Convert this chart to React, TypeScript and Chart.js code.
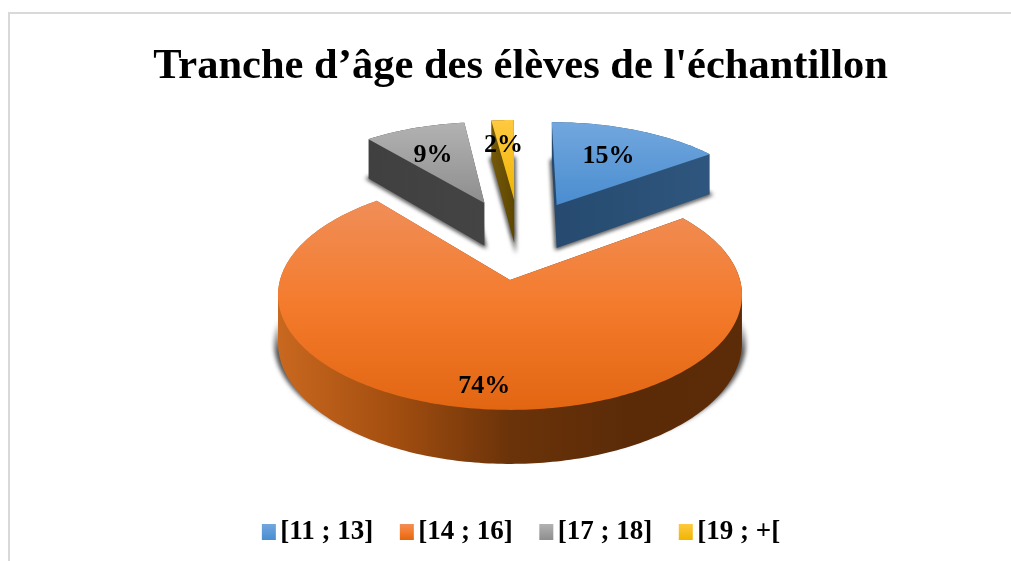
import React, { useEffect, useRef } from "react";
import { Chart, registerables } from "chart.js";

Chart.register(...registerables);

const titleText = "Tranche d’âge des élèves de l'échantillon";
const categories = ["[11 ; 13]", "[14 ; 16]", "[17 ; 18]", "[19 ; +["];
const shares = [15, 74, 9, 2];
const baseColors = ["#5B9BD5", "#ED7D31", "#A5A5A5", "#FFC000"];

// Per-slice explosion in disc units (right, back), disc radius and label placement.
const explodeU = [0.222, 0, -0.122, 0.02];
const explodeV = [0.726, 0, 0.748, 0.78];
const discRadius = [0.98, 1, 0.96, 0.955];
const labelRadius = [0.65, 0.83, 0.63, 0.66];
const labelTurn = [-1.5, -0.3, -2, -1];
const topColors: string[][] = [
  ["#72A7DE", "#4A8DD0"],
  ["#F08E58", "#F47B2C", "#E26612"],
  ["#B2B2B2", "#8E8E8E"],
  ["#FFC941", "#EFB500"],
];
const sideColors: string[][] = [
  ["#264A6F", "#2F567E"],
  ["#C9681F", "#A34E10", "#6B3309", "#5B2B08", "#5C2C08"],
  ["#404040", "#444444"],
  ["#75590A", "#5D4700"],
];
const drawOrder = [2, 3, 0, 1];

const CX = 510;
const CY = 280;
const RX = 230;
const RY = 113;
const K = 0.13;
const DEPTH = 47;
const LEGEND_SHIFT = 5;
const FONT = "'Liberation Serif', serif";

type P = [number, number];
const project = (u: number, v: number, z = 0): P => {
  const w = 1 + K * v;
  return [CX + (RX * u) / w, CY - (RY * v) / w + (z * DEPTH) / w];
};

const trace = (ctx: CanvasRenderingContext2D, pts: P[]) => {
  ctx.beginPath();
  pts.forEach((p, i) => (i ? ctx.lineTo(p[0], p[1]) : ctx.moveTo(p[0], p[1])));
  ctx.closePath();
};

const vGrad = (ctx: CanvasRenderingContext2D, y0: number, y1: number, stops: string[]) => {
  const g = ctx.createLinearGradient(0, y0, 0, y1);
  stops.forEach((c, i) => g.addColorStop(i / (stops.length - 1), c));
  return g;
};
const hGrad = (ctx: CanvasRenderingContext2D, x0: number, x1: number, stops: string[]) => {
  const g = ctx.createLinearGradient(x0, 0, x1, 0);
  stops.forEach((c, i) => g.addColorStop(i / (stops.length - 1), c));
  return g;
};

const pie3d = {
  id: "pie3d",
  afterUpdate(chart: any) {
    const legend = chart.legend;
    if (legend) {
      legend.left += LEGEND_SHIFT;
      legend.legendHitBoxes.forEach((b: any) => {
        b.left += LEGEND_SHIFT;
      });
    }
  },
  beforeDraw(chart: any) {
    const { ctx, width, height } = chart;
    ctx.save();
    ctx.fillStyle = "#ffffff";
    ctx.fillRect(0, 0, width, height);
    ctx.fillStyle = "#D9D9D9";
    ctx.fillRect(8, 12, width - 8, 2);
    ctx.fillRect(8, 12, 2, height - 12);
    ctx.restore();
  },
  beforeDatasetsDraw(chart: any) {
    const ctx: CanvasRenderingContext2D = chart.ctx;
    const arcs = chart.getDatasetMeta(0).data;
    const wedge = (i: number, z: number): P[] => {
      const a0 = arcs[i].startAngle + Math.PI / 2;
      const a1 = arcs[i].endAngle + Math.PI / 2;
      const n = Math.max(4, Math.ceil(((a1 - a0) * 180) / Math.PI));
      const pts: P[] = [project(explodeU[i], explodeV[i], z)];
      for (let s = 0; s <= n; s++) {
        const a = a0 + ((a1 - a0) * s) / n;
        pts.push(project(explodeU[i] + discRadius[i] * Math.sin(a), explodeV[i] + discRadius[i] * Math.cos(a), z));
      }
      return pts;
    };

    ctx.save();
    for (const i of drawOrder) {
      const top = wedge(i, 0);
      const bottom = wedge(i, 1);
      const xs = top.map((p) => p[0]);
      const ys = top.map((p) => p[1]);
      const minX = Math.min(...xs);
      const maxX = Math.max(...xs);

      // soft cast shadow
      ctx.save();
      (ctx as any).filter = "blur(2px)";
      if (i === 1) {
        const fade = ctx.createLinearGradient(0, 318, 0, 352);
        fade.addColorStop(0, "rgba(85,85,85,0)");
        fade.addColorStop(1, "rgba(85,85,85,1)");
        ctx.fillStyle = fade;
        ctx.beginPath();
        ctx.ellipse(510, 343, 236, 116, 0, 0, Math.PI * 2);
        ctx.fill();
      } else {
        ctx.fillStyle = "#4A4A4A";
        ctx.strokeStyle = "#4A4A4A";
        ctx.lineWidth = 3;
        trace(ctx, bottom);
        ctx.fill();
        ctx.stroke();
      }
      ctx.restore();

      // extruded walls
      ctx.beginPath();
      for (let k = 0; k < top.length; k++) {
        const n = (k + 1) % top.length;
        const quad: P[] = [top[k], top[n], bottom[n], bottom[k]];
        let area = 0;
        quad.forEach((p, q) => {
          const r = quad[(q + 1) % 4];
          area += p[0] * r[1] - r[0] * p[1];
        });
        const ordered = area > 0 ? quad : [...quad].reverse();
        ordered.forEach((p, q) => (q ? ctx.lineTo(p[0], p[1]) : ctx.moveTo(p[0], p[1])));
        ctx.closePath();
      }
      bottom.forEach((p, q) => (q ? ctx.lineTo(p[0], p[1]) : ctx.moveTo(p[0], p[1])));
      ctx.closePath();
      ctx.fillStyle = hGrad(ctx, minX, maxX, sideColors[i]);
      ctx.fill();

      // top face
      trace(ctx, top);
      ctx.fillStyle = vGrad(ctx, Math.min(...ys), Math.max(...ys), topColors[i]);
      ctx.fill();
    }
    ctx.restore();

    // percentage labels
    const values: number[] = chart.data.datasets[0].data;
    const total = values.reduce((a, b) => a + b, 0);
    ctx.save();
    ctx.fillStyle = "#000000";
    ctx.font = `bold 26px ${FONT}`;
    ctx.textAlign = "center";
    ctx.textBaseline = "middle";
    arcs.forEach((arc: any, i: number) => {
      const mid = (arc.startAngle + arc.endAngle) / 2 + Math.PI / 2 + (labelTurn[i] * Math.PI) / 180;
      const p = project(
        explodeU[i] + labelRadius[i] * Math.sin(mid),
        explodeV[i] + labelRadius[i] * Math.cos(mid)
      );
      ctx.fillText(`${Math.round((values[i] / total) * 100)}%`, p[0], p[1] + 2.5);
    });
    ctx.restore();
    return false;
  },
  afterDraw(chart: any) {
    const ctx: CanvasRenderingContext2D = chart.ctx;
    const boxes = chart.legend?.legendHitBoxes ?? [];
    ctx.save();
    boxes.forEach((b: any, i: number) => {
      const x = b.left - 6.5;
      const y = b.top + b.height / 2 - 8.5;
      ctx.fillStyle = vGrad(ctx, y, y + 16, topColors[i]);
      ctx.fillRect(x, y, 14, 16);
    });
    ctx.restore();
  },
};

export default function App() {
  const ref = useRef<HTMLCanvasElement>(null);
  useEffect(() => {
    document.body.style.margin = "0";
    const chart = new Chart(ref.current!, {
      type: "pie",
      data: {
        labels: categories,
        datasets: [{ data: shares, backgroundColor: baseColors, borderWidth: 0 }],
      },
      options: {
        animation: false,
        responsive: false,
        layout: { padding: { left: 30, top: 0, right: 0, bottom: 5 } },
        plugins: {
          tooltip: { enabled: false },
          title: {
            display: true,
            text: titleText,
            color: "#000000",
            font: { family: FONT, size: 42.5, weight: "bold" },
            padding: { top: 42, bottom: 10 },
          },
          legend: {
            position: "bottom",
            labels: {
              color: "#000000",
              font: { family: FONT, size: 27, weight: "bold" },
              boxWidth: 1,
              boxHeight: 16,
              padding: 30.5,
              generateLabels: (c: any) =>
                (Chart as any).overrides.pie.plugins.legend.labels
                  .generateLabels(c)
                  .map((l: any) => ({ ...l, fillStyle: "rgba(0,0,0,0)", strokeStyle: "rgba(0,0,0,0)", lineWidth: 0 })),
            },
          },
        },
      },
      plugins: [pie3d],
    } as any);
    return () => chart.destroy();
  }, []);
  return (
    <div style={{ width: 1011, height: 561 }}>
      <canvas ref={ref} width={1011} height={561} style={{ display: "block" }} />
    </div>
  );
}
